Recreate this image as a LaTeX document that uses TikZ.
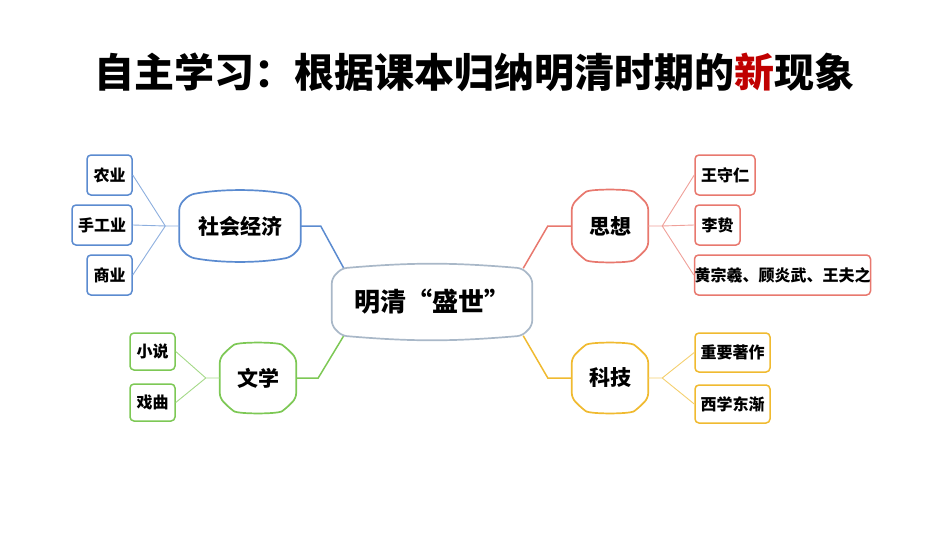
\documentclass[tikz,border=0pt]{standalone}
\usepackage{fontspec}
\setmainfont{Noto Sans CJK SC}
\usetikzlibrary{calc}
\definecolor{cb}{HTML}{5B8BD0}
\definecolor{cr}{HTML}{E8786E}
\definecolor{cy}{HTML}{F0BA30}
\definecolor{cg}{HTML}{7DC855}
\definecolor{cc}{HTML}{A9B8C8}
\definecolor{dred}{HTML}{C00000}
\tikzset{
 leaf/.style={draw=#1,line width=1.5pt,rounded corners=4pt,fill=white,font=\bfseries\fontsize{16}{16}\selectfont,inner sep=0pt,minimum height=39pt,align=center},
 br/.style={inner sep=0pt,minimum width=#1},
 link/.style={draw=#1,line width=0.9pt},
 trunk/.style={draw=#1,line width=1.5pt},
}
\newcommand{\shapeof}[4]{% node, color, d, bulge
 \draw[#2,line width=1.7pt,rounded corners=5pt,fill=white]
  ($(#1.north west)+(0,#3)$) -- ($(#1.south west)+(0,-#3)$) -- ($(#1.south west)+(#3,0)$)
  .. controls ($(#1.south)+(-20,#4)$) and ($(#1.south)+(20,#4)$) .. ($(#1.south east)+(-#3,0)$)
  -- ($(#1.south east)+(0,-#3)$) -- ($(#1.north east)+(0,#3)$) -- ($(#1.north east)+(-#3,0)$)
  .. controls ($(#1.north)+(20,-#4)$) and ($(#1.north)+(-20,-#4)$) .. ($(#1.north west)+(#3,0)$) -- cycle;}
\begin{document}
\begin{tikzpicture}[x=1pt,y=-1pt]
\useasboundingbox (0,0) rectangle (950,535);
\node[font=\bfseries\fontsize{40}{40}\selectfont] (title) at (474,72) {自主学习：根据课本归纳明清时期的\textcolor{dred}{新}现象};
% branch anchors
\node[br=121pt,minimum height=62pt] (se) at (240,226) {};
\node[br=76pt,minimum height=62pt] (sx) at (610,226) {};
\node[br=76pt,minimum height=60pt] (wx) at (258,378) {};
\node[br=76pt,minimum height=60pt] (kj) at (610,378) {};
\node[br=200pt,minimum height=67pt] (c) at (432,302) {};
% trunks
\draw[trunk=cb] (se.east) -- ++(20,0) -- ($(c.north west)+(12,0)$);
\draw[trunk=cr] (sx.west) -- ++(-24,0) -- ($(c.north east)+(-9,0)$);
\draw[trunk=cg] (wx.east) -- ++(22,0) -- ($(c.south west)+(12,0)$);
\draw[trunk=cy] (kj.west) -- ++(-24,0) -- ($(c.south east)+(-9,0)$);
\shapeof{se}{cb}{10}{6}
\shapeof{sx}{cr}{10}{6}
\shapeof{wx}{cg}{10}{6}
\shapeof{kj}{cy}{10}{6}
\shapeof{c}{cc}{10}{6}
\node[font=\bfseries\fontsize{21}{21}\selectfont] at (se) {社会经济};
\node[font=\bfseries\fontsize{21}{21}\selectfont] at (sx) {思想};
\node[font=\bfseries\fontsize{21}{21}\selectfont] at (wx) {文学};
\node[font=\bfseries\fontsize{21}{21}\selectfont] at (kj) {科技};
\node[font=\bfseries\fontsize{26}{26}\selectfont] at (c) {明清“盛世”};
% leaves
\node[leaf=cb,minimum width=45pt,minimum height=40pt] (l1) at (109.5,175) {农业};
\node[leaf=cb,minimum width=60pt,minimum height=40pt] (l2) at (102,225) {手工业};
\node[leaf=cb,minimum width=45pt,minimum height=40pt] (l3) at (109.5,275) {商业};
\node[leaf=cg,minimum width=45pt,minimum height=37pt] (l4) at (152.5,351.5) {小说};
\node[leaf=cg,minimum width=45pt,minimum height=37pt] (l5) at (152.5,402.5) {戏曲};
\node[leaf=cr,minimum width=60pt,minimum height=40pt] (r1) at (725,175) {王守仁};
\node[leaf=cr,minimum width=45pt,minimum height=40pt] (r2) at (717.5,225) {李贽};
\node[leaf=cr,minimum width=175pt,minimum height=40pt] (r3) at (782.5,275) {黄宗羲、顾炎武、王夫之};
\node[leaf=cy,minimum width=75pt,minimum height=39pt] (r4) at (732.5,352.5) {重要著作};
\node[leaf=cy,minimum width=75pt,minimum height=38pt] (r5) at (732.5,404) {西学东渐};
% links
\coordinate (jse) at ($(se.west)+(-14,0)$);
\draw[link=cb!70] (se.west) -- (jse) (jse) -- (l1.east) (jse) -- (l2.east) (jse) -- (l3.east);
\coordinate (jwx) at ($(wx.west)+(-14,0)$);
\draw[link=cg!70] (wx.west) -- (jwx) (jwx) -- (l4.east) (jwx) -- (l5.east);
\coordinate (jsx) at ($(sx.east)+(14,0)$);
\draw[link=cr!70] (sx.east) -- (jsx) (jsx) -- (r1.west) (jsx) -- (r2.west) (jsx) -- (r3.west);
\coordinate (jkj) at ($(kj.east)+(14,0)$);
\draw[link=cy!70] (kj.east) -- (jkj) (jkj) -- (r4.west) (jkj) -- (r5.west);
\end{tikzpicture}
\end{document}
